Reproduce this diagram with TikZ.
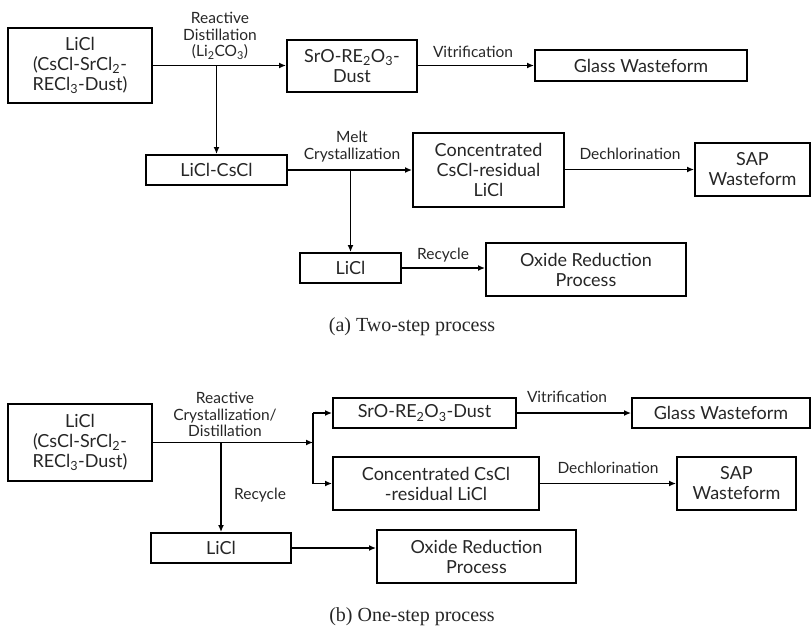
\documentclass[tikz,border=0pt]{standalone}
\usepackage{fontspec}
\setmainfont{Liberation Serif}
\setsansfont{Lato}
\usetikzlibrary{arrows.meta}
\tikzset{
  box/.style={draw, line width=1.9pt, inner sep=0pt, align=center,
    font=\sffamily\fontsize{18}{20}\selectfont, text=black!85},
  lbl/.style={align=center, inner sep=0pt,
    font=\sffamily\fontsize{15.5}{16.5}\selectfont, text=black!85},
  captext/.style={inner sep=0pt, font=\rmfamily\fontsize{20}{22}\selectfont, text=black!85},
  arr/.style={line width=1.9pt, -{Latex[length=7pt,width=6pt]}},
  ln/.style={line width=1.9pt}
}
\newcommand{\sub}[1]{\textsubscript{#1}}
\begin{document}
\begin{tikzpicture}[x=1pt,y=-1pt]
\useasboundingbox (0,0) rectangle (812,629);
% ---------- (a) ----------
\node[box, minimum width=144, minimum height=75] (A1) at (80,65.5) {LiCl\\(CsCl-SrCl\sub{2}-\\RECl\sub{3}-Dust)};
\node[box, minimum width=130, minimum height=52] (A2) at (352,66) {SrO-RE\sub{2}O\sub{3}-\\Dust};
\node[box, minimum width=212, minimum height=31] (A3) at (641,65.5) {Glass Wasteform};
\node[box, minimum width=141, minimum height=30] (A4) at (216.5,170) {LiCl-CsCl};
\node[box, minimum width=151, minimum height=74] (A5) at (488.5,170) {Concentrated\\CsCl-residual\\LiCl};
\node[box, minimum width=115, minimum height=53] (A6) at (752.5,169.5) {SAP\\Wasteform};
\node[box, minimum width=101, minimum height=30] (A7) at (350.5,268) {LiCl};
\node[box, minimum width=200, minimum height=53] (A8) at (586,269.5) {Oxide Reduction\\Process};

\draw[arr] (A1.east) -- (A1.east -| A2.west);
\draw[arr] (A1.east -| A4.north) -- (A4.north);
\draw[arr] (A2.east |- A3.west) -- (A3.west);
\draw[arr] (A4.east) -- (A4.east -| A5.west);
\draw[arr] (A4.east -| A7.north) -- (A7.north);
\draw[arr] (A5.east |- A6.west) -- (A6.west);
\draw[arr] (A7.east) -- (A7.east -| A8.west);

\node[lbl, anchor=south] (LA1) at (220,60) {Reactive\\Distillation\\(Li\sub{2}CO\sub{3})};
\node[lbl] (LA2) at (473,52) {Vitrification};
\node[lbl, anchor=south] (LA3) at (352,162) {Melt\\Crystallization};
\node[lbl] (LA4) at (630,154) {Dechlorination};
\node[lbl] (LA5) at (443,255) {Recycle};
\node[captext] (CA) at (412,327) {(a) Two-step process};

% ---------- (b) ----------
\node[box, minimum width=144, minimum height=77] (B1) at (80,442.5) {LiCl\\(CsCl-SrCl\sub{2}-\\RECl\sub{3}-Dust)};
\node[box, minimum width=183, minimum height=30] (B2) at (424.5,413) {SrO-RE\sub{2}O\sub{3}-Dust};
\node[box, minimum width=178, minimum height=30] (B3) at (721,413) {Glass Wasteform};
\node[box, minimum width=206, minimum height=53] (B4) at (436,483.5) {Concentrated CsCl\\-residual LiCl};
\node[box, minimum width=119, minimum height=53] (B5) at (736.5,483.5) {SAP\\Wasteform};
\node[box, minimum width=140, minimum height=30] (B6) at (221,548) {LiCl};
\node[box, minimum width=199, minimum height=53] (B7) at (476.5,556.5) {Oxide Reduction\\Process};

\coordinate (br) at (313,442.5);
\draw[arr] (B1.east) -- (br);
\draw[ln] (br |- B2.west) -- (br |- B4.west);
\draw[arr] (br |- B2.west) -- (B2.west);
\draw[arr] (br |- B4.west) -- (B4.west);
\draw[arr] (B1.east -| B6.north) -- (B6.north);
\draw[arr] (B2.east) -- (B2.east -| B3.west);
\draw[arr] (B4.east) -- (B4.east -| B5.west);
\draw[arr] (B6.east) -- (B6.east -| B7.west);

\node[lbl, anchor=south] (LB1) at (225,437) {Reactive\\Crystallization/\\Distillation};
\node[lbl] (LB2) at (260,495) {Recycle};
\node[lbl] (LB3) at (567,397) {Vitrification};
\node[lbl] (LB4) at (608,468) {Dechlorination};
\node[captext] (CB) at (412,617) {(b) One-step process};
\end{tikzpicture}
\end{document}
